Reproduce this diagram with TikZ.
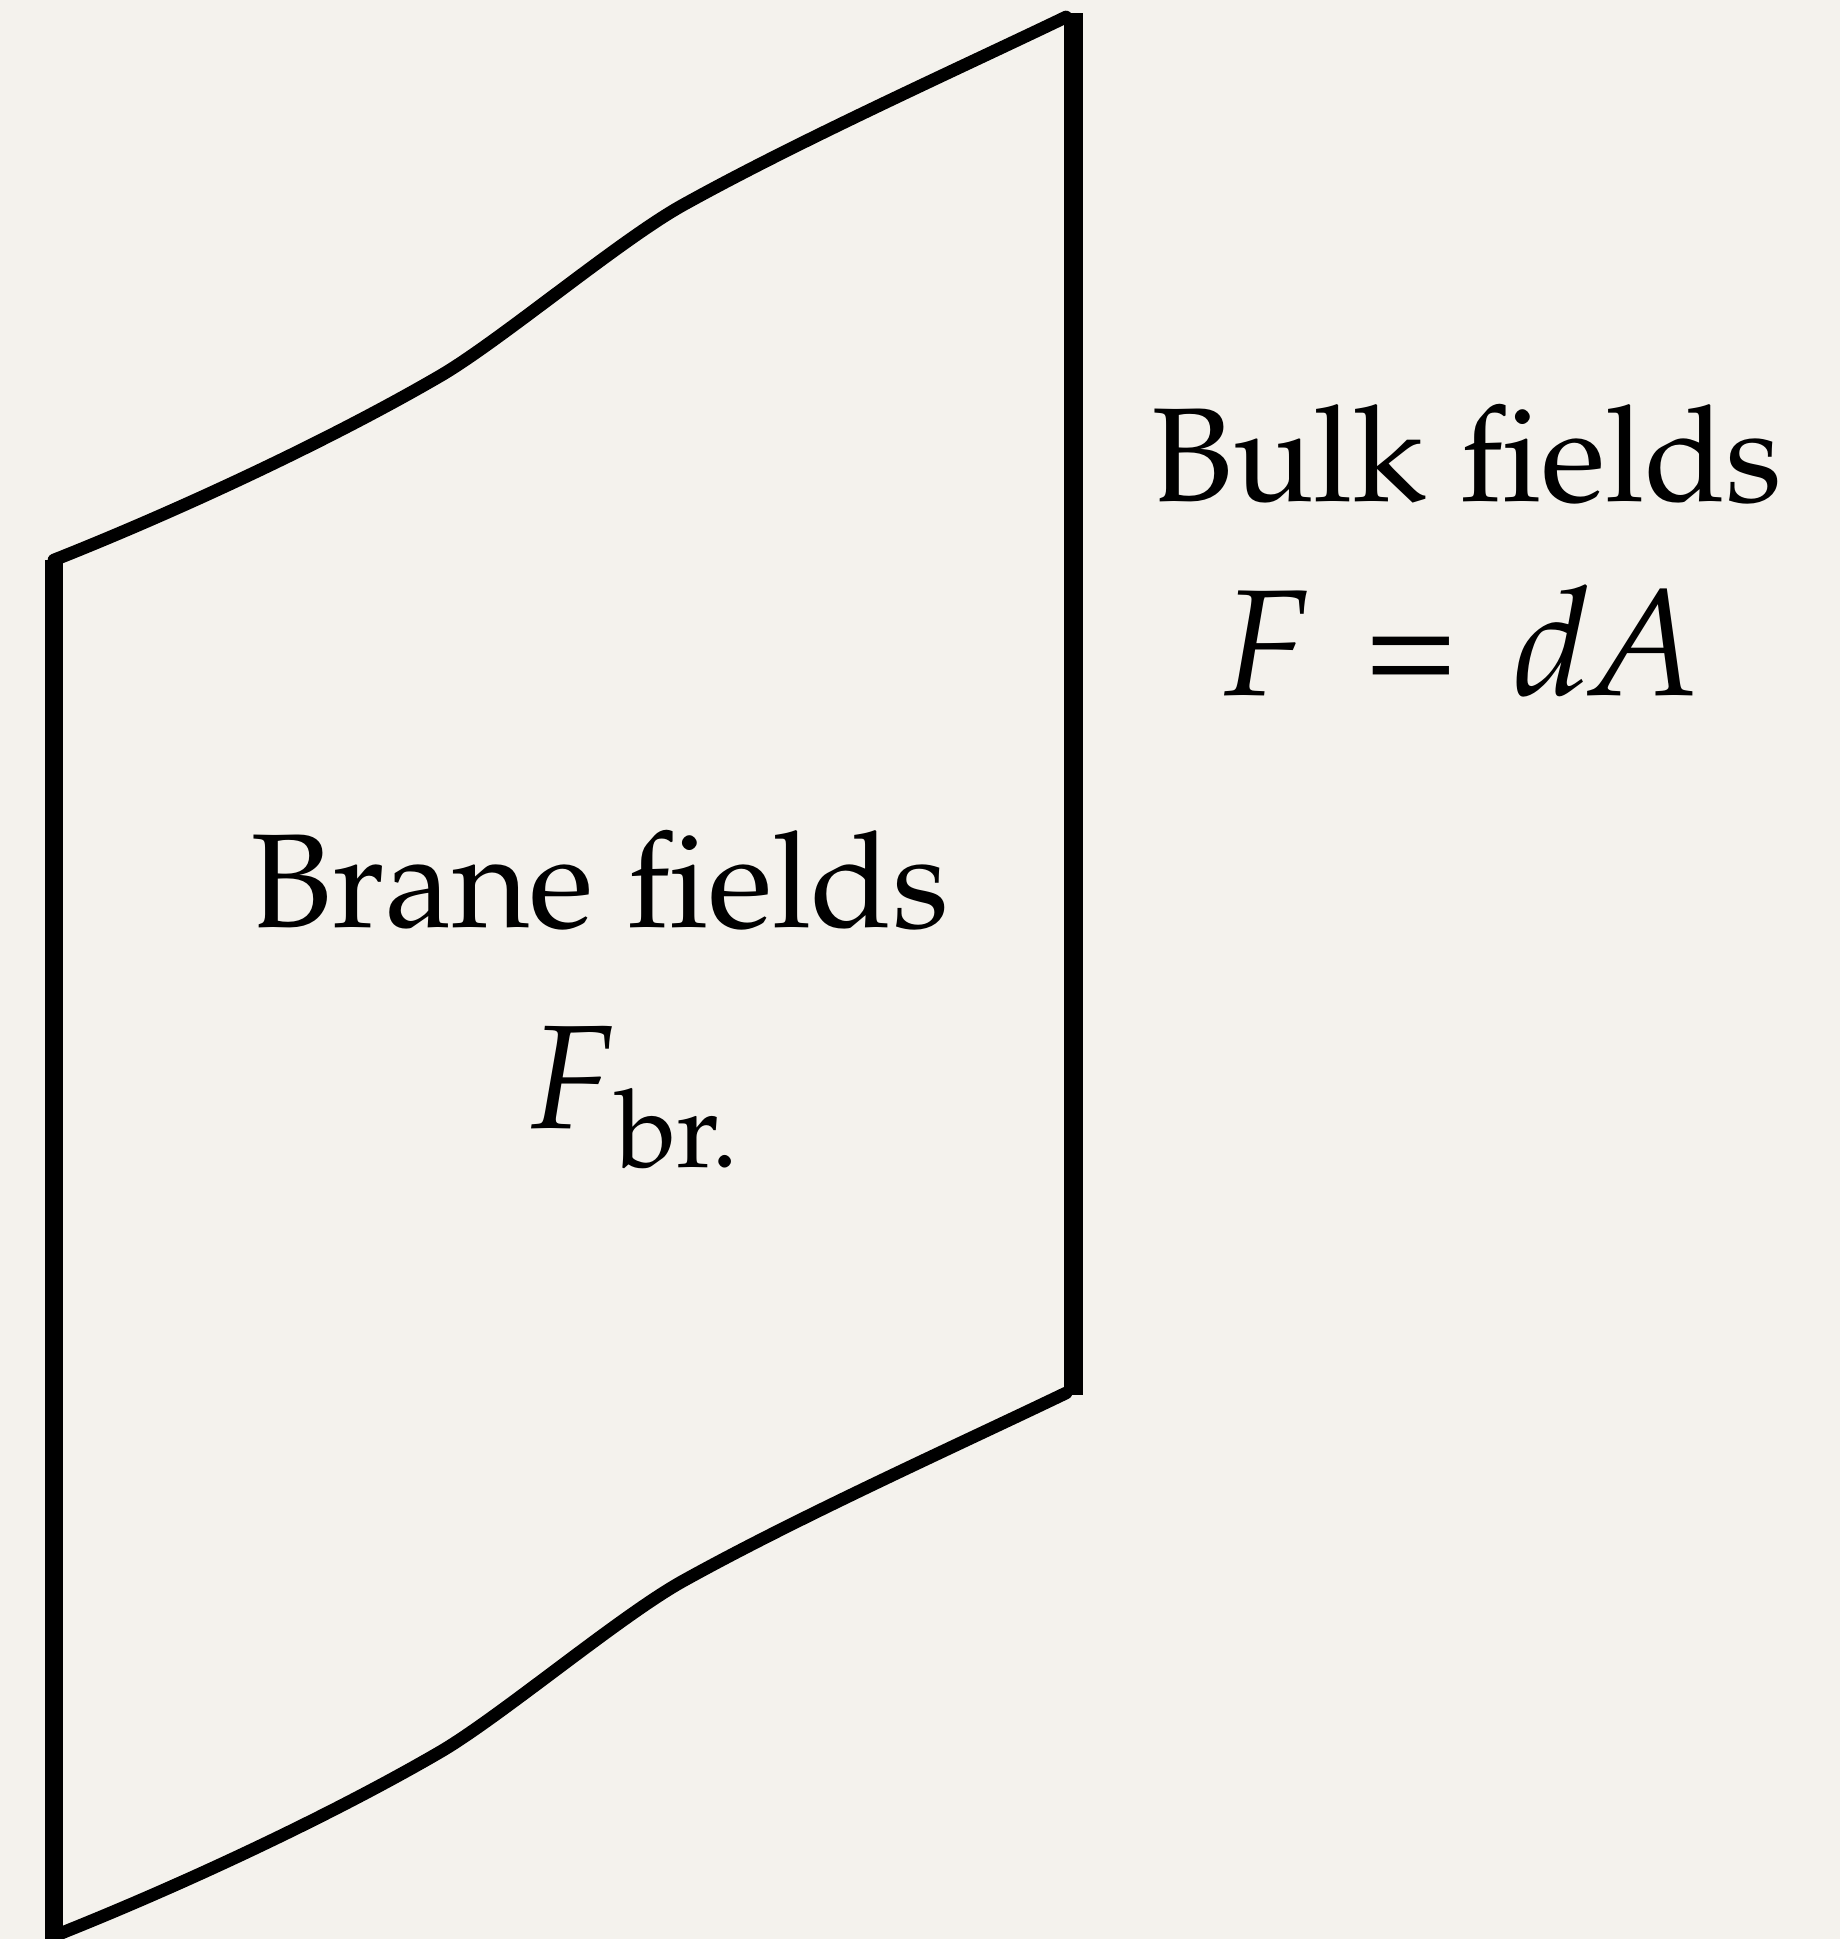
\documentclass[tikz,border=0pt]{standalone}
\usepackage[T1]{fontenc}
\usepackage{mathpazo}
\begin{document}
\begin{tikzpicture}[x=0.01cm,y=-0.01cm]
\definecolor{paper}{RGB}{244,242,237}
\tikzset{
  edge/.style={line width=5.4pt, line cap=butt},
  wave/.style={line width=3.6pt, line cap=round},
  lbl/.style={font=\fontsize{38}{44}\selectfont, inner sep=0pt, anchor=base},
  eqlbl/.style={font=\fontsize{43}{48}\selectfont, inner sep=0pt, anchor=base}
}
\fill[paper] (0,0) rectangle (1840,1939);
\useasboundingbox (0,0) rectangle (1840,1939);
\coordinate (TL) at (54,560);
\coordinate (TR) at (1073,13);
\coordinate (BR) at (1073,1395);
\coordinate (BL) at (54,1960);
% vertical edges
\draw[edge] (TL) -- (BL);
\draw[edge] (TR) -- (BR);
% wavy top and bottom edges
\foreach \s in {0,1376}{
  \begin{scope}[shift={(0,\s)}]
    \draw[wave] (54,560) .. controls (180,510) and (330,440) .. (440,376)
      .. controls (500,341) and (620,240) .. (683,205)
      .. controls (800,140) and (960,68) .. (1066,17);
  \end{scope}
}
\node[lbl] (bulk) at (1467,501) {Bulk fields};
\node[eqlbl] (bulkeq) at (1462,695) {\textit{F}\hspace{0.38em}=\hspace{0.38em}\textit{dA}};
\node[lbl] (brane) at (600,927) {Brane fields};
\node[eqlbl, font=\fontsize{42}{48}\selectfont] (braneeq) at (635,1128) {\textit{F}\kern0.02em\raisebox{-0.27em}{\fontsize{31}{34}\selectfont br.}};
\end{tikzpicture}
\end{document}
